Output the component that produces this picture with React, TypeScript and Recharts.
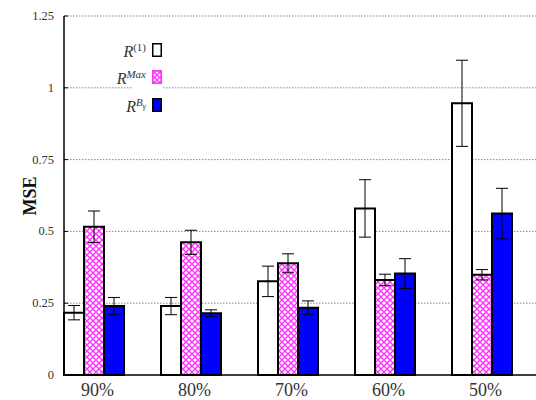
import React from "react";
import { Bar, BarChart, CartesianGrid, ErrorBar, XAxis, YAxis } from "recharts";

const categories = ["90%", "80%", "70%", "60%", "50%"];
const r1 = [0.217, 0.24, 0.326, 0.58, 0.946];
const r1Err = [0.025, 0.03, 0.053, 0.1, 0.15];
const rMax = [0.516, 0.462, 0.389, 0.331, 0.349];
const rMaxErr = [0.055, 0.042, 0.033, 0.02, 0.018];
const rB = [0.24, 0.215, 0.234, 0.353, 0.562];
const rBErr = [0.03, 0.012, 0.024, 0.052, 0.088];
const yTicks = [0, 0.25, 0.5, 0.75, 1, 1.25];

const FONT = "'Liberation Serif', 'DejaVu Serif', serif";
const PINK = "#ff33ff";
const BLUE = "#0000ff";

const data = categories.map((c, i) => ({
  cat: c,
  r1: r1[i],
  r1Err: r1Err[i],
  rMax: rMax[i],
  rMaxErr: rMaxErr[i],
  rB: rB[i],
  rBErr: rBErr[i],
}));

function YTick(props: any) {
  const { x, y, payload } = props;
  return (
    <g>
      <line x1={x + 8} x2={x + 12} y1={y} y2={y} stroke="#000" strokeWidth={1} />
      <text
        x={x - 2}
        y={y}
        dy={4}
        textAnchor="end"
        fontSize={12.5}
        fill="#333"
        fontFamily={FONT}
      >
        {String(payload.value)}
      </text>
    </g>
  );
}

function XTick(props: any) {
  const { x, y, payload } = props;
  return (
    <text x={x + 4} y={y} dy={13} textAnchor="middle" fontSize={18} fill="#333" fontFamily={FONT}>
      {payload.value}
    </text>
  );
}

function MseLabel() {
  return (
    <text
      x={36}
      y={196}
      transform="rotate(-90 36 196)"
      textAnchor="middle"
      fontSize={18}
      fontWeight="bold"
      fontFamily={FONT}
      fill="#111"
    >
      MSE
    </text>
  );
}

function Swatch({ kind }: { kind: "white" | "hatch" | "blue" }) {
  return (
    <svg width={10} height={14} style={{ display: "block" }}>
      <defs>
        <pattern id="lg-hatch" width={5} height={5} patternUnits="userSpaceOnUse">
          <rect width={5} height={5} fill="#fff" />
          <path d="M0,0 L5,5 M5,0 L0,5" stroke={PINK} strokeWidth={1.3} />
        </pattern>
      </defs>
      <rect
        x={0.75}
        y={0.75}
        width={8.5}
        height={12.5}
        fill={kind === "white" ? "#fff" : kind === "blue" ? BLUE : "url(#lg-hatch)"}
        stroke={kind === "hatch" ? PINK : "#000"}
        strokeWidth={1.5}
      />
    </svg>
  );
}

const legendRows: { label: React.ReactNode; kind: "white" | "hatch" | "blue"; top: number }[] = [
  {
    label: (
      <>
        <i>R</i>
        <sup style={{ fontSize: 11 }}>(1)</sup>
      </>
    ),
    kind: "white",
    top: 38,
  },
  {
    label: (
      <>
        <i>R</i>
        <sup style={{ fontSize: 11 }}>
          <i>Max</i>
        </sup>
      </>
    ),
    kind: "hatch",
    top: 65,
  },
  {
    label: (
      <>
        <i>R</i>
        <sup style={{ fontSize: 11 }}>
          <i>B</i>
          <sub style={{ fontSize: 8 }}>
            <i>γ</i>
          </sub>
        </sup>
      </>
    ),
    kind: "blue",
    top: 93,
  },
];

export default function App() {
  return (
    <div style={{ position: "relative", width: 536, height: 400, fontFamily: FONT, background: "#fff" }}>
      <style>{"body{margin:0}"}</style>
      <BarChart
        width={536}
        height={400}
        data={data}
        margin={{ top: 16, right: 0, bottom: 0, left: 0 }}
        barGap={0}
        barCategoryGap={19}
      >
        <defs>
          <pattern id="hatch" width={6} height={6} patternUnits="userSpaceOnUse">
            <rect width={6} height={6} fill="#fff" />
            <path d="M0,0 L6,6 M6,0 L0,6" stroke={PINK} strokeWidth={1.4} />
          </pattern>
        </defs>
        <CartesianGrid
          vertical={false}
          stroke="#888"
          strokeDasharray="1.5 1.5"
          horizontalValues={yTicks.slice(1)}
        />
        <XAxis
          dataKey="cat"
          padding={{ left: -19, right: 6 }}
          tickLine={false}
          axisLine={{ stroke: "#000", strokeWidth: 1.5 }}
          height={25}
          tick={<XTick />}
          interval={0}
        />
        <YAxis
          width={64}
          domain={[0, 1.25]}
          ticks={yTicks}
          tickLine={false}
          axisLine={{ stroke: "#000", strokeWidth: 1.5 }}
          tick={<YTick />}
          interval={0}
          label={<MseLabel />}
        />
        <Bar dataKey="r1" fill="#fff" stroke="#000" strokeWidth={2} isAnimationActive={false}>
          <ErrorBar dataKey="r1Err" width={6} stroke="#000" strokeWidth={1} />
        </Bar>
        <Bar dataKey="rMax" fill="url(#hatch)" stroke="#000" strokeWidth={2} isAnimationActive={false}>
          <ErrorBar dataKey="rMaxErr" width={6} stroke="#000" strokeWidth={1} />
        </Bar>
        <Bar dataKey="rB" fill={BLUE} stroke="#000" strokeWidth={2} isAnimationActive={false}>
          <ErrorBar dataKey="rBErr" width={6} stroke="#000" strokeWidth={1} />
        </Bar>
      </BarChart>
      <div style={{ position: "absolute", left: 132, top: 34, width: 31, height: 82, background: "#fff" }} />
      {legendRows.map((row) => (
        <div
          key={row.kind}
          style={{
            position: "absolute",
            top: row.top,
            right: 536 - 162,
            display: "flex",
            alignItems: "center",
            gap: 6,
            fontSize: 16,
            color: "#333",
            lineHeight: "18px",
          }}
        >
          <span>{row.label}</span>
          <Swatch kind={row.kind} />
        </div>
      ))}
    </div>
  );
}
